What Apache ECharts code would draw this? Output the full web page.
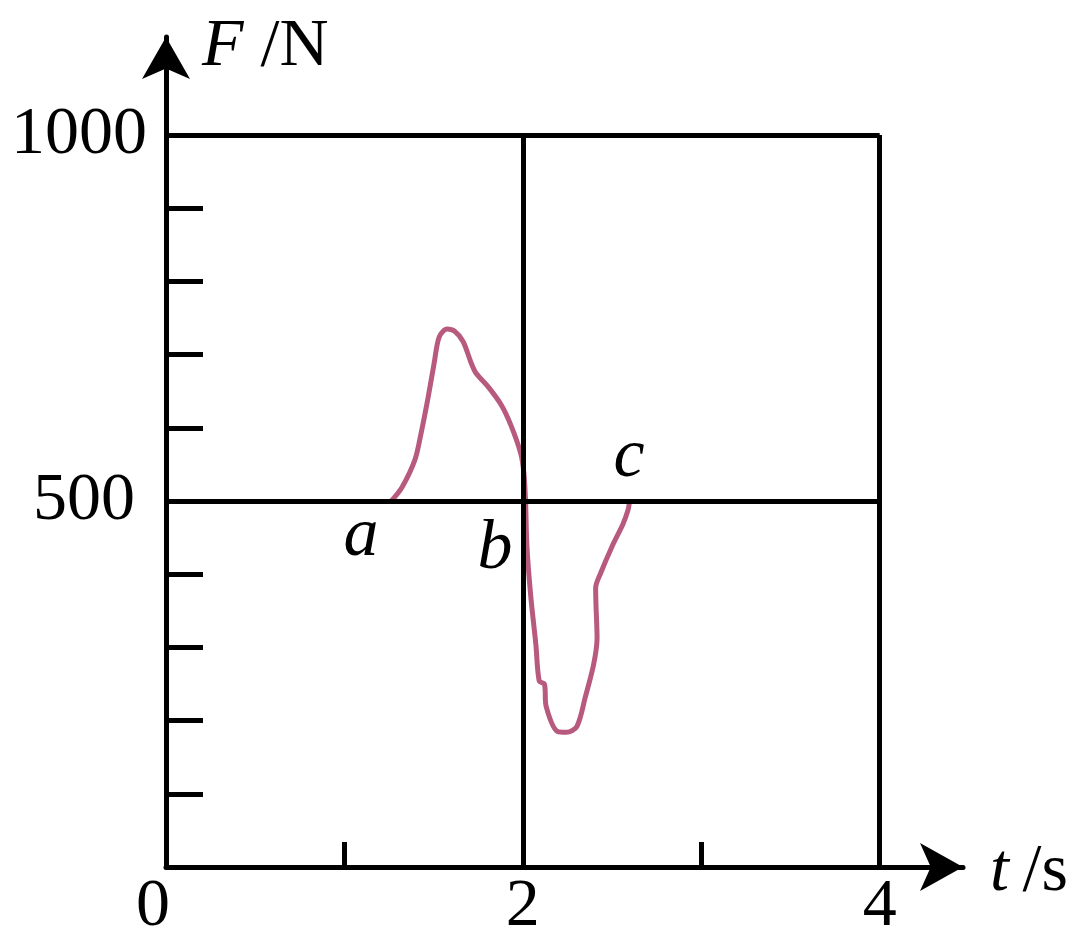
<!DOCTYPE html>
<html><head><meta charset="utf-8">
<script src="https://cdn.jsdelivr.net/npm/echarts@6/dist/echarts.min.js"></script>
<style>html,body{margin:0;padding:0;background:#fff}#c{width:1080px;height:950px}</style>
</head><body><div id="c"></div>
<script>
// ---- data ----
const timeS = [1.262,1.323,1.396,1.430,1.468,1.504,1.531,1.575,1.618,1.665,1.710,1.737,1.806,1.880,1.934,1.988,2.006,2.015,2.023,2.044,2.073,2.092,2.121,2.131,2.195,2.245,2.303,2.351,2.397,2.416,2.410,2.408,2.437,2.500,2.562,2.590,2.596];
const forceN = [500,519,557,593,640,690,724,735,732,718,689,675,656,631,603,565,538,501,438,371,304,254,250,219,185,184,192,233,277,313,358,381,402,438,469,488,496];
const xTickValues = [1,3];
const xLabelValues = [0,2,4];
const yTickValues = [100,200,300,400,600,700,800,900];
const yLabelValues = [500,1000];
const gridLineT = [2,4];
const gridLineF = [500,1000];
const annotationNames = ['a','b','c'];
const annotationT = [1.093,1.844,2.595];
const annotationF = [451,433,559];

const FONT = 'Liberation Serif';
const tMax = Math.max(...gridLineT);
const fMax = Math.max(...gridLineF);

const chart = echarts.init(document.getElementById('c'));
chart.setOption({
  animation: false,
  grid: {left: 166, right: 117, top: 37, bottom: 83},
  xAxis: {
    type: 'value', min: 0, max: 4.467,
    name: '{i|t}\u2009/s', nameLocation: 'end', nameGap: 27,
    nameTextStyle: {fontFamily: FONT, fontSize: 68, color: '#000', verticalAlign: 'middle', padding: [10,0,0,0],
      rich: {i: {fontFamily: FONT, fontSize: 68, fontStyle: 'italic', color: '#000'}}},
    axisLine: {symbol: ['none','arrow'], symbolSize: [36,43], lineStyle: {color: '#000', width: 5}},
    axisTick: {customValues: xTickValues, inside: true, length: 25, lineStyle: {color: '#000', width: 5}},
    axisLabel: {customValues: xLabelValues, fontFamily: FONT, fontSize: 68, color: '#000', margin: 6,
      formatter: v => v === 0 ? '{z|0}' : String(v),
      rich: {z: {fontFamily: FONT, fontSize: 68, color: '#000', padding: [0,26,0,0]}}},
    splitLine: {show: false}
  },
  yAxis: {
    type: 'value', min: 0, max: 1134,
    name: '{i|F} /N', nameLocation: 'end', nameGap: -44,
    nameTextStyle: {fontFamily: FONT, fontSize: 68, color: '#000', align: 'left', verticalAlign: 'bottom', padding: [0,0,0,36],
      rich: {i: {fontFamily: FONT, fontSize: 68, fontStyle: 'italic', color: '#000'}}},
    axisLine: {symbol: ['none','arrow'], symbolSize: [36,42], lineStyle: {color: '#000', width: 5}},
    axisTick: {customValues: yTickValues, inside: true, length: 37, lineStyle: {color: '#000', width: 5}},
    axisLabel: {customValues: yLabelValues, fontFamily: FONT, fontSize: 68, color: '#000', margin: 19,
      formatter: v => v === 500 ? '{p|' + v + '}' : String(v),
      rich: {p: {fontFamily: FONT, fontSize: 68, color: '#000', padding: [0,12,0,0]}}},
    splitLine: {show: false}
  },
  series: [
    {
      type: 'line', data: [], silent: true, z: 1,
      markLine: {
        silent: true, symbol: ['none','none'], label: {show: false},
        lineStyle: {color: '#000', width: 5, type: 'solid', cap: 'butt', opacity: 1},
        emphasis: {disabled: true},
        data: gridLineT.map(t => [{coord: [t, 0]}, {coord: [t, fMax]}])
          .concat(gridLineF.map(f => [{coord: [0, f]}, {coord: [tMax, f]}]))
      }
    },
    {
      type: 'line', z: 3, silent: true,
      data: timeS.map((t, i) => [t, forceN[i]]),
      showSymbol: false, smooth: 0.3,
      lineStyle: {color: '#b85a7e', width: 5, cap: 'round', join: 'round'}
    },
    {
      type: 'scatter', z: 4, silent: true, symbolSize: 0,
      data: annotationNames.map((n, i) => ({name: n, value: [annotationT[i], annotationF[i]]})),
      label: {show: true, position: 'inside', formatter: p => p.name, opacity: 1, textBorderWidth: 0,
        fontFamily: FONT, fontSize: 70, fontStyle: 'italic', color: '#000'}
    }
  ]
});
</script></body></html>
